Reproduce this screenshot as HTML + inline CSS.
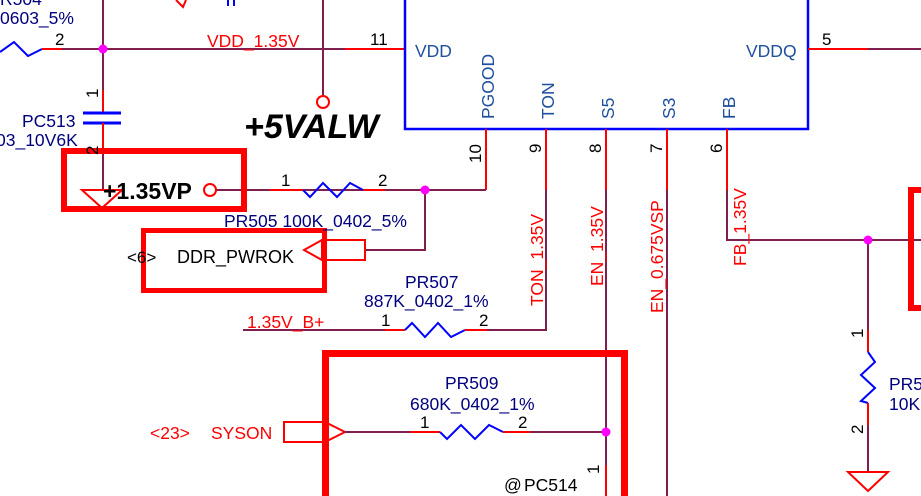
<!DOCTYPE html>
<html><head><style>
html,body{margin:0;padding:0;background:#fff;}
svg{display:block;}
text{font-family:"Liberation Sans",sans-serif;}
</style></head><body>
<svg width="921" height="496" viewBox="0 0 921 496" xmlns="http://www.w3.org/2000/svg">
<g fill="none" stroke-width="2">
<polyline points="0,52 14,42 28,56 42,49" stroke="#0000ff"/>
<line x1="42" y1="49" x2="62" y2="49" stroke="#f00"/>
<line x1="62" y1="49" x2="345" y2="49" stroke="#7f1f4f"/>
<line x1="345" y1="49" x2="404" y2="49" stroke="#f00"/>
<polyline points="176,0 183,7 186,0" stroke="#f00"/>
<line x1="228" y1="0" x2="228" y2="6" stroke="#0000ff"/>
<line x1="234" y1="0" x2="234" y2="6" stroke="#0000ff"/>
<line x1="103" y1="0" x2="103" y2="90" stroke="#7f1f4f"/>
<line x1="103" y1="90" x2="103" y2="113" stroke="#f00"/>
<line x1="83" y1="113" x2="121" y2="113" stroke="#0000ff" stroke-width="3"/>
<line x1="83" y1="123" x2="121" y2="123" stroke="#0000ff" stroke-width="3"/>
<line x1="103" y1="123" x2="103" y2="150" stroke="#f00"/>
<line x1="103" y1="150" x2="103" y2="190" stroke="#7f1f4f"/>
<polygon points="82,190 122,190 102,208" stroke="#f00"/>
<line x1="323" y1="0" x2="323" y2="95" stroke="#7f1f4f"/>
<circle cx="323" cy="102" r="6" stroke="#f00"/>
<rect x="405" y="-5" width="403" height="134" stroke="#0000ff" stroke-width="2.5"/>
<line x1="808" y1="49" x2="868" y2="49" stroke="#f00"/>
<line x1="868" y1="49" x2="921" y2="49" stroke="#7f1f4f"/>
<line x1="486" y1="129" x2="486" y2="190" stroke="#f00"/>
<line x1="546" y1="129" x2="546" y2="190" stroke="#f00"/>
<line x1="606" y1="129" x2="606" y2="190" stroke="#f00"/>
<line x1="667" y1="129" x2="667" y2="190" stroke="#f00"/>
<line x1="727" y1="129" x2="727" y2="190" stroke="#f00"/>
<polyline points="486,190 216,190" stroke="#7f1f4f"/>
<polyline points="546,190 546,330 487,330" stroke="#7f1f4f"/>
<line x1="606" y1="190" x2="606" y2="496" stroke="#7f1f4f"/>
<line x1="667" y1="190" x2="667" y2="496" stroke="#7f1f4f"/>
<polyline points="727,190 727,240 921,240" stroke="#7f1f4f"/>
<rect x="64" y="151" width="180" height="58" stroke="#f00" stroke-width="6"/>
<circle cx="210" cy="190" r="6" stroke="#f00"/>
<line x1="270" y1="190" x2="303" y2="190" stroke="#f00"/>
<polyline points="303,190 310,197 323,183 337,197 350,183 363,190" stroke="#0000ff"/>
<line x1="363" y1="190" x2="385" y2="190" stroke="#f00"/>
<polyline points="425,190 425,250 365,250" stroke="#7f1f4f"/>
<rect x="143.5" y="230.5" width="181" height="60" stroke="#f00" stroke-width="5"/>
<polygon points="322,240 304,250 322,260" stroke="#f00"/>
<rect x="322" y="240" width="43" height="20" stroke="#f00"/>
<line x1="243" y1="330" x2="385" y2="330" stroke="#7f1f4f"/>
<line x1="385" y1="330" x2="405" y2="330" stroke="#f00"/>
<polyline points="405,330 412,323 425,337 438,323 451,337 465,330" stroke="#0000ff"/>
<line x1="465" y1="330" x2="487" y2="330" stroke="#f00"/>
<rect x="325.5" y="353.5" width="299" height="150" stroke="#f00" stroke-width="7"/>
<rect x="284" y="422" width="41" height="20" stroke="#f00"/>
<polygon points="325,422 345,432 325,442" stroke="#f00"/>
<line x1="345" y1="432" x2="410" y2="432" stroke="#7f1f4f"/>
<line x1="410" y1="432" x2="440" y2="432" stroke="#f00"/>
<polyline points="440,432 447,439 461,425 475,439 489,425 503,432" stroke="#0000ff"/>
<line x1="503" y1="432" x2="530" y2="432" stroke="#f00"/>
<line x1="530" y1="432" x2="606" y2="432" stroke="#7f1f4f"/>
<line x1="606" y1="465" x2="606" y2="496" stroke="#f00"/>
<rect x="911" y="190" width="20" height="118" stroke="#f00" stroke-width="6"/>
<line x1="868" y1="240" x2="868" y2="330" stroke="#7f1f4f"/>
<line x1="868" y1="330" x2="868" y2="352" stroke="#f00"/>
<polyline points="868,352 875,362 861,375 875,388 861,401 868,403" stroke="#0000ff"/>
<line x1="868" y1="403" x2="868" y2="425" stroke="#f00"/>
<line x1="868" y1="425" x2="868" y2="472" stroke="#7f1f4f"/>
<polygon points="848,472 888,472 868,491" stroke="#f00"/>
</g>
<g fill="#ff00ff">
<circle cx="103" cy="49" r="4.5"/>
<circle cx="425" cy="190" r="4.5"/>
<circle cx="868" cy="240" r="4.5"/>
<circle cx="606" cy="432" r="4.5"/>
</g>
<g font-size="17.5" fill="#00007f">
<text x="0" y="5">R504</text>
<text x="0" y="24">0603_5%</text>
<text x="22" y="127">PC513</text>
<text x="-4" y="146">03_10V6K</text>
<text x="224" y="227">PR505 100K_0402_5%</text>
<text x="405" y="288">PR507</text>
<text x="364" y="307">887K_0402_1%</text>
<text x="445" y="389">PR509</text>
<text x="410" y="410">680K_0402_1%</text>
<text x="889" y="390">PR5</text>
<text x="889" y="410">10K</text>
<text x="524" y="491" fill="#000">PC514</text>
</g>
<text x="504" y="491" font-size="17.5" fill="#000">@</text>
<g font-size="17.5" fill="#1f4f9f">
<text x="415" y="57">VDD</text>
<text x="746" y="57">VDDQ</text>
<text transform="translate(494,119) rotate(-90)">PGOOD</text>
<text transform="translate(554,119) rotate(-90)">TON</text>
<text transform="translate(614,119) rotate(-90)">S5</text>
<text transform="translate(675,119) rotate(-90)">S3</text>
<text transform="translate(735,119) rotate(-90)">FB</text>
</g>
<g font-size="17" fill="#000">
<text x="55" y="45">2</text>
<text x="370" y="45">11</text>
<text x="822" y="45">5</text>
<text transform="translate(98,98) rotate(-90)">1</text>
<text transform="translate(98,155) rotate(-90)">2</text>
<text x="281" y="186">1</text>
<text x="378" y="186">2</text>
<text x="381" y="326">1</text>
<text x="479" y="326">2</text>
<text x="420" y="428">1</text>
<text x="518" y="428">2</text>
<text transform="translate(481,163) rotate(-90)">10</text>
<text transform="translate(541,153) rotate(-90)">9</text>
<text transform="translate(601,153) rotate(-90)">8</text>
<text transform="translate(662,153) rotate(-90)">7</text>
<text transform="translate(722,153) rotate(-90)">6</text>
<text transform="translate(863,338) rotate(-90)">1</text>
<text transform="translate(863,434) rotate(-90)">2</text>
<text transform="translate(599,474) rotate(-90)">1</text>
<text x="127" y="263">&lt;6&gt;</text>
<text x="177" y="263" font-size="18">DDR_PWROK</text>
</g>
<g font-size="17.5" fill="#f00">
<text x="207" y="47">VDD_1.35V</text>
<text x="247" y="328">1.35V_B+</text>
<text x="150" y="439">&lt;23&gt;</text>
<text x="211" y="439">SYSON</text>
<text transform="translate(543,306) rotate(-90)">TON_1.35V</text>
<text transform="translate(603,286) rotate(-90)">EN_1.35V</text>
<text transform="translate(663,313) rotate(-90)">EN_0.675VSP</text>
<text transform="translate(746,266) rotate(-90)">FB_1.35V</text>
</g>
<text x="244" y="138" font-size="34" font-weight="bold" font-style="italic" fill="#000">+5VALW</text>
<text x="103" y="199" font-size="23" font-weight="bold" fill="#000">+1.35VP</text>
</svg>
</body></html>
